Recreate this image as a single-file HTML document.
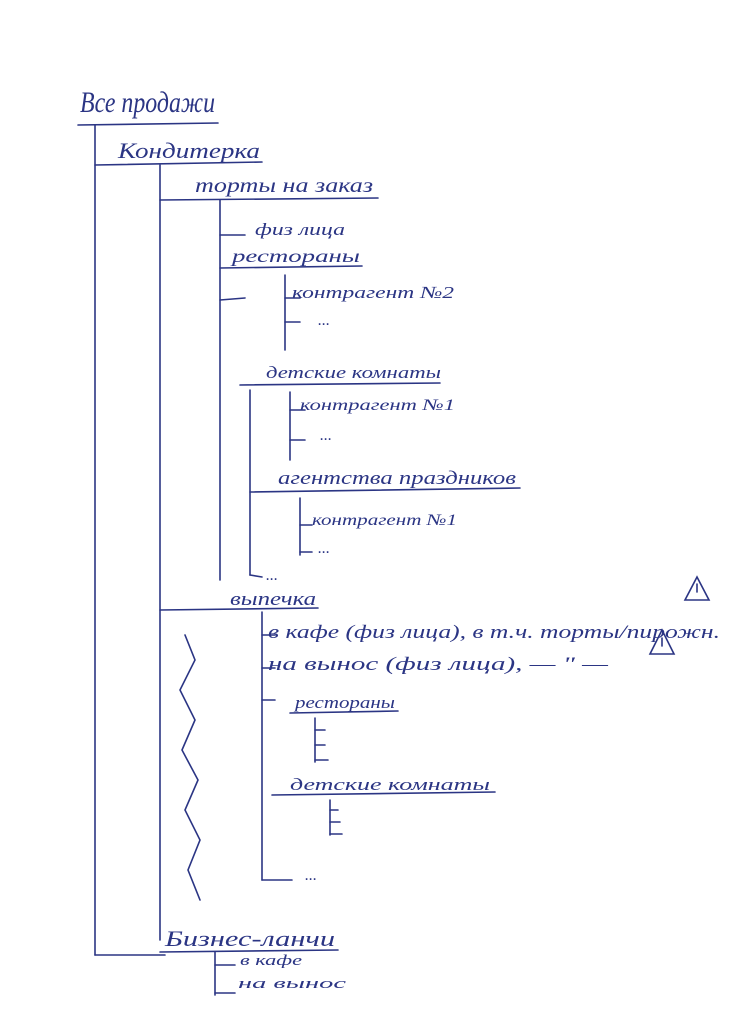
<!DOCTYPE html>
<html><head><meta charset="utf-8"><style>
html,body{margin:0;padding:0;background:#fff;width:744px;height:1024px;overflow:hidden}
svg{display:block}
text{font-family:"Liberation Serif","Noto Serif CJK SC",serif;font-style:italic;fill:#2b3584}
</style></head><body>
<svg width="744" height="1024" viewBox="0 0 744 1024" xmlns="http://www.w3.org/2000/svg">
<g stroke="#2b3584" stroke-width="1.6" fill="none" stroke-linecap="round">
<line x1="78" y1="125" x2="218" y2="123"/>
<line x1="95" y1="125" x2="95" y2="955"/>
<line x1="95" y1="955" x2="165" y2="955"/>
<line x1="95" y1="165" x2="262" y2="162"/>
<line x1="160" y1="165" x2="160" y2="940"/>
<line x1="160" y1="200" x2="378" y2="198"/>
<line x1="220" y1="200" x2="220" y2="580"/>
<line x1="220" y1="235" x2="245" y2="235"/>
<line x1="220" y1="268" x2="362" y2="266"/>
<line x1="220" y1="300" x2="245" y2="298"/>
<line x1="285" y1="275" x2="285" y2="350"/>
<line x1="285" y1="298" x2="300" y2="298"/>
<line x1="285" y1="322" x2="300" y2="322"/>
<line x1="240" y1="385" x2="440" y2="383"/>
<line x1="290" y1="392" x2="290" y2="460"/>
<line x1="290" y1="410" x2="305" y2="410"/>
<line x1="290" y1="440" x2="305" y2="440"/>
<line x1="250" y1="390" x2="250" y2="575"/>
<line x1="250" y1="492" x2="520" y2="488"/>
<line x1="300" y1="498" x2="300" y2="555"/>
<line x1="300" y1="525" x2="312" y2="525"/>
<line x1="300" y1="552" x2="312" y2="552"/>
<line x1="250" y1="575" x2="262" y2="577"/>
<line x1="160" y1="610" x2="318" y2="608"/>
<line x1="262" y1="612" x2="262" y2="880"/>
<line x1="262" y1="635" x2="275" y2="635"/>
<line x1="262" y1="668" x2="275" y2="668"/>
<line x1="262" y1="700" x2="275" y2="700"/>
<line x1="290" y1="713" x2="398" y2="711"/>
<line x1="315" y1="718" x2="315" y2="762"/>
<line x1="315" y1="730" x2="325" y2="730"/><line x1="315" y1="745" x2="325" y2="745"/><line x1="315" y1="760" x2="328" y2="760"/>
<line x1="272" y1="795" x2="495" y2="792"/>
<line x1="330" y1="800" x2="330" y2="835"/>
<line x1="330" y1="810" x2="338" y2="810"/><line x1="330" y1="822" x2="340" y2="822"/><line x1="330" y1="834" x2="342" y2="834"/>
<line x1="262" y1="880" x2="292" y2="880"/>
<polyline points="185,635 195,660 180,690 195,720 182,750 198,780 185,810 200,840 188,870 200,900"/>
<line x1="160" y1="952" x2="338" y2="950"/>
<line x1="215" y1="952" x2="215" y2="995"/>
<line x1="215" y1="965" x2="235" y2="965"/>
<line x1="215" y1="993" x2="235" y2="993"/>
<polygon points="697,577 685,600 709,600"/>
<polygon points="662,630 650,654 674,654"/>
<line x1="697" y1="584" x2="697" y2="592"/><line x1="662" y1="638" x2="662" y2="646"/>
</g>
<text x="80" y="112" font-size="30" textLength="135" lengthAdjust="spacingAndGlyphs">Все продажи</text>
<text x="118" y="158" font-size="22" textLength="142" lengthAdjust="spacingAndGlyphs">Кондитерка</text>
<text x="195" y="192" font-size="20" textLength="178" lengthAdjust="spacingAndGlyphs">торты на заказ</text>
<text x="255" y="235" font-size="17" textLength="90" lengthAdjust="spacingAndGlyphs">физ лица</text>
<text x="232" y="262" font-size="18" textLength="128" lengthAdjust="spacingAndGlyphs">рестораны</text>
<text x="292" y="298" font-size="17" textLength="162" lengthAdjust="spacingAndGlyphs">контрагент №2</text>
<text x="318" y="325" font-size="16">...</text>
<text x="266" y="378" font-size="17" textLength="175" lengthAdjust="spacingAndGlyphs">детские комнаты</text>
<text x="300" y="410" font-size="16" textLength="155" lengthAdjust="spacingAndGlyphs">контрагент №1</text>
<text x="320" y="440" font-size="16">...</text>
<text x="278" y="484" font-size="19" textLength="238" lengthAdjust="spacingAndGlyphs">агентства праздников</text>
<text x="312" y="525" font-size="16" textLength="145" lengthAdjust="spacingAndGlyphs">контрагент №1</text>
<text x="318" y="553" font-size="16">...</text>
<text x="266" y="580" font-size="16">...</text>
<text x="230" y="605" font-size="19" textLength="86" lengthAdjust="spacingAndGlyphs">выпечка</text>
<text x="268" y="638" font-size="19" textLength="452" lengthAdjust="spacingAndGlyphs">в кафе (физ лица), в т.ч. торты/пирожн.</text>
<text x="268" y="670" font-size="19" textLength="340" lengthAdjust="spacingAndGlyphs">на вынос (физ лица), — " —</text>
<text x="295" y="708" font-size="17" textLength="100" lengthAdjust="spacingAndGlyphs">рестораны</text>
<text x="290" y="790" font-size="17" textLength="200" lengthAdjust="spacingAndGlyphs">детские комнаты</text>
<text x="305" y="880" font-size="16">...</text>
<text x="165" y="946" font-size="22" textLength="170" lengthAdjust="spacingAndGlyphs">Бизнес-ланчи</text>
<text x="240" y="965" font-size="15" textLength="62" lengthAdjust="spacingAndGlyphs">в кафе</text>
<text x="238" y="988" font-size="15" textLength="108" lengthAdjust="spacingAndGlyphs">на вынос</text>
</svg>
</body></html>
